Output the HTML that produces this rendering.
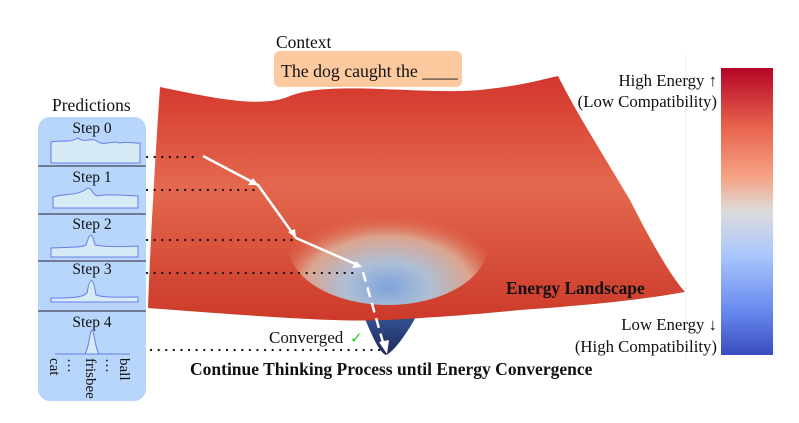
<!DOCTYPE html>
<html><head><meta charset="utf-8"><style>
body{margin:0;background:#fff;}
svg text{font-family:"Liberation Serif",serif;}
</style></head><body>
<svg width="799" height="418" viewBox="0 0 799 418" xmlns="http://www.w3.org/2000/svg">
<defs>
<linearGradient id="cb" x1="0" y1="0" x2="0" y2="1">
<stop offset="0" stop-color="#b40426"/>
<stop offset="0.2" stop-color="#e7604c"/>
<stop offset="0.38" stop-color="#f6a385"/>
<stop offset="0.5" stop-color="#dddcdc"/>
<stop offset="0.65" stop-color="#aac7fd"/>
<stop offset="0.85" stop-color="#6688ee"/>
<stop offset="1" stop-color="#3b4cc0"/>
</linearGradient>
<radialGradient id="bowl" cx="0.5" cy="0.85" r="0.6">
<stop offset="0" stop-color="#7fa3dc"/>
<stop offset="0.35" stop-color="#aebfd6"/>
<stop offset="0.7" stop-color="#dca48e"/>
<stop offset="1" stop-color="#e26a4e" stop-opacity="0"/>
</radialGradient>
<linearGradient id="surf" x1="0" y1="0" x2="0" y2="1">
<stop offset="0" stop-color="#d3352c"/>
<stop offset="0.45" stop-color="#e4684e"/>
<stop offset="1" stop-color="#cc3a2a"/>
</linearGradient>
<linearGradient id="pit" x1="0" y1="0" x2="0" y2="1">
<stop offset="0" stop-color="#3d5ea6"/>
<stop offset="1" stop-color="#1c2a5c"/>
</linearGradient>
<clipPath id="sc"><path d="M160,87 C200,95 260,110 290,96 C330,80 420,95 480,90 C520,86 540,80 558,76 C575,110 600,150 630,200 C650,240 670,275 685,292 C640,300 590,305 520,310 C460,316 420,318 386,320 C340,322 280,318 148,308 C150,250 155,160 160,87 Z"/></clipPath>
</defs>
<line x1="686" y1="55" x2="686" y2="360" stroke="#eee"/>
<path d="M361,310 C370,330 378,352 386,355 C394,352 410,330 422,305 Z" fill="url(#pit)"/>
<path d="M160,87 C200,95 260,110 290,96 C330,80 420,95 480,90 C520,86 540,80 558,76 C575,110 600,150 630,200 C650,240 670,275 685,292 C640,300 590,305 520,310 C460,316 420,318 386,320 C340,322 280,318 148,308 C150,250 155,160 160,87 Z" fill="url(#surf)"/>
<g clip-path="url(#sc)">
<ellipse cx="388" cy="245" rx="100" ry="60" fill="url(#bowl)"/>
</g>
<text x="276" y="48" font-size="17.5" fill="#111">Context</text>
<rect x="274" y="51" width="188" height="36" rx="6" fill="#fdcaa0"/>
<text x="281" y="77" font-size="17.8" fill="#111">The dog caught the ____</text>
<rect x="721" y="68" width="52" height="287" fill="url(#cb)"/>
<text x="717" y="86" font-size="16.8" text-anchor="end" fill="#111">High Energy ↑</text>
<text x="717" y="107" font-size="16.8" text-anchor="end" fill="#111">(Low Compatibility)</text>
<text x="717" y="330" font-size="16.8" text-anchor="end" fill="#111">Low Energy ↓</text>
<text x="717" y="352" font-size="16.8" text-anchor="end" fill="#111">(High Compatibility)</text>
<text x="506" y="294" font-size="17.4" font-weight="bold" fill="#111">Energy Landscape</text>
<text x="52" y="111" font-size="17.5" fill="#111">Predictions</text>
<rect x="38" y="117" width="108" height="284" rx="12" fill="#b8d5fb"/>
<g stroke="#445" stroke-width="1.2">
<line x1="38" y1="166" x2="146" y2="166"/><line x1="38" y1="214" x2="146" y2="214"/>
<line x1="38" y1="261" x2="146" y2="261"/><line x1="38" y1="311" x2="146" y2="311"/>
</g>
<g font-size="15.5" fill="#111" text-anchor="middle">
<text x="92" y="133">Step 0</text><text x="92" y="182">Step 1</text><text x="92" y="229">Step 2</text><text x="92" y="274">Step 3</text><text x="92" y="327">Step 4</text>
</g>
<g fill="#d7ebf6" stroke="#6a7de8" stroke-width="1">
<path d="M51,163 L51,142 C60,140 70,143 78,138 C85,144 92,136 98,142 C105,146 112,140 120,143 C128,141 133,144 140,143 L140,163 Z"/>
<path d="M53,208 L53,197 C65,193 75,196 85,190 C90,184 92,194 97,196 C105,194 118,195 138,196 L138,208 Z"/>
<path d="M51,257 L51,248 C70,247 80,248 86,245 C90,232 92,232 95,245 C105,247 120,247 138,246 L138,257 Z"/>
<path d="M51,302 L51,298 C70,298 82,298 87,293 C90,276 93,276 96,295 C105,298 120,297 138,297 L138,302 Z"/>
<path d="M55,354 L85,354 C89,348 90,330 92,330 C94,330 95,348 99,354 L130,354 Z"/>
</g>
<g font-size="15" fill="#111">
<text transform="translate(50,358) rotate(90)">cat</text>
<text transform="translate(68,358) rotate(90)">…</text>
<text transform="translate(86,358) rotate(90)">frisbee</text>
<text transform="translate(106,358) rotate(90)">…</text>
<text transform="translate(120,358) rotate(90)">ball</text>
</g>
<g stroke="#111" stroke-width="2.2" stroke-dasharray="0.1 7.5" stroke-linecap="round">
<line x1="147" y1="157" x2="200" y2="157"/>
<line x1="147" y1="190" x2="255" y2="190"/>
<line x1="147" y1="240" x2="294" y2="240"/>
<line x1="147" y1="273" x2="358" y2="273"/>
<line x1="151" y1="350" x2="384" y2="350"/>
</g>
<g stroke="#fff" stroke-width="2.5" fill="none">
<polyline points="203,156 258,185 296,238 360,266"/>
<line x1="363" y1="272" x2="384" y2="346" stroke-dasharray="10 6"/>
</g>
<g fill="#fff">
<polygon points="258,185 248,185 253,178"/>
<polygon points="296,238 288,232 295,229"/>
<polygon points="362,267 352,268 356,261"/>
<polygon points="387,354 379,342 389,340"/>
</g>
<text x="269" y="343" font-size="17" fill="#111">Converged</text>
<text x="350" y="343" font-size="15" fill="#2c2">✓</text>
<text x="190" y="375" font-size="17.5" font-weight="bold" fill="#111">Continue Thinking Process until Energy Convergence</text>
</svg>
</body></html>
